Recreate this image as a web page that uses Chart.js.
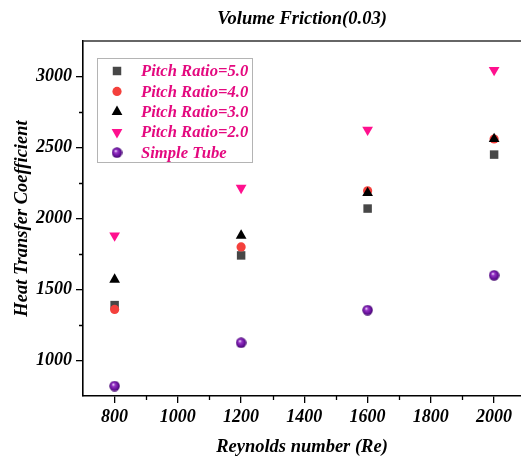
<!DOCTYPE html>
<html>
<head>
<meta charset="utf-8">
<script src="https://cdn.jsdelivr.net/npm/chart.js@4/dist/chart.umd.min.js"></script>
<style>
html,body{margin:0;padding:0;background:#fff;}
#wrap{width:521px;height:458px;position:relative;}
</style>
</head>
<body>
<div id="wrap"><canvas id="c" width="521" height="458"></canvas></div>
<script>
// ---- data ----
const reynolds = [800, 1200, 1600, 2000];
const pitch50 = [1390, 1740, 2070, 2450];
const pitch40 = [1360, 1800, 2195, 2560];
const pitch30 = [1570, 1880, 2180, 2560];
const pitch20 = [1880, 2215, 2625, 3045];
const simpleTube = [820, 1125, 1355, 1600];
const seriesNames = ['Pitch Ratio=5.0', 'Pitch Ratio=4.0', 'Pitch Ratio=3.0', 'Pitch Ratio=2.0', 'Simple Tube'];
const xTicks = [800, 1000, 1200, 1400, 1600, 1800, 2000];
const xMinorTicks = [900, 1100, 1300, 1500, 1700, 1900];
const yTicks = [1000, 1500, 2000, 2500, 3000];
const yMinorTicks = [1250, 1750, 2250, 2750];
const titleText = 'Volume Friction(0.03)';
const xTitle = 'Reynolds number (Re)';
const yTitle = 'Heat Transfer Coefficient';

// sphere marker image
function makeSphere(d) {
  const cv = document.createElement('canvas');
  cv.width = d; cv.height = d;
  const g = cv.getContext('2d');
  const r = d / 2;
  const grad = g.createRadialGradient(r * 0.75, r * 0.7, 0.3, r, r, r);
  grad.addColorStop(0, '#f4e8ff');
  grad.addColorStop(0.25, '#9a36c8');
  grad.addColorStop(0.7, '#66119a');
  grad.addColorStop(1, '#3e0566');
  g.fillStyle = grad;
  g.beginPath(); g.arc(r, r, r - 0.3, 0, Math.PI * 2); g.fill();
  return cv;
}
const sphere = makeSphere(11);

const toPts = arr => arr.map((v, i) => ({x: reynolds[i], y: v}));
const serif = "'Liberation Serif', 'DejaVu Serif', serif";

const datasets = [
  {label: seriesNames[0], data: toPts(pitch50), pointStyle: 'rect', pointRadius: 6, backgroundColor: '#474747', borderWidth: 0, order: 5},
  {label: seriesNames[1], data: toPts(pitch40), pointStyle: 'circle', pointRadius: 4.6, backgroundColor: '#f4403c', borderWidth: 0, order: 4},
  {label: seriesNames[2], data: toPts(pitch30), pointStyle: 'triangle', pointRadius: 6.2, backgroundColor: '#000000', borderWidth: 0, order: 3},
  {label: seriesNames[3], data: toPts(pitch20), pointStyle: 'triangle', rotation: 180, pointRadius: 6.2, backgroundColor: '#ff108e', borderWidth: 0, order: 2},
  {label: seriesNames[4], data: toPts(simpleTube), pointStyle: sphere, pointRadius: 5.5, backgroundColor: '#66119a', borderWidth: 0, order: 1}
];
datasets.forEach(d => { d.showLine = false; d.pointHoverRadius = d.pointRadius; });

const decor = {
  id: 'decor',
  afterDraw(chart) {
    const ctx = chart.ctx;
    const a = chart.chartArea;
    const xs = chart.scales.x, ys = chart.scales.y;
    ctx.save();
    // top frame line
    ctx.strokeStyle = '#333';
    ctx.lineWidth = 1.5;
    ctx.beginPath();
    ctx.moveTo(a.left, a.top); ctx.lineTo(a.right, a.top);
    ctx.stroke();
    // minor ticks
    ctx.strokeStyle = '#000';
    ctx.lineWidth = 1.3;
    ctx.beginPath();
    xMinorTicks.forEach(v => {
      const px = Math.round(xs.getPixelForValue(v)) + 0.5;
      ctx.moveTo(px, a.bottom); ctx.lineTo(px, a.bottom + 4);
    });
    yMinorTicks.forEach(v => {
      const py = Math.round(ys.getPixelForValue(v)) + 0.5;
      ctx.moveTo(a.left, py); ctx.lineTo(a.left - 4, py);
    });
    ctx.stroke();
    // title
    ctx.fillStyle = '#000';
    ctx.font = "italic bold 18.5px " + serif;
    ctx.textAlign = 'center';
    ctx.textBaseline = 'middle';
    ctx.fillText(titleText, (a.left + a.right) / 2, 19);
    // legend
    const lx = 97, ly = 58, lw = 155, lh = 104;
    ctx.fillStyle = '#fff';
    ctx.fillRect(lx, ly, lw, lh);
    ctx.strokeStyle = '#b4b4b4';
    ctx.lineWidth = 1;
    ctx.strokeRect(lx + 0.5, ly + 0.5, lw, lh);
    ctx.font = "italic bold 16.6px " + serif;
    ctx.textAlign = 'left';
    chart.data.datasets.forEach((ds, i) => {
      const cy = 71 + i * 20.4;
      const mx = 117;
      if (ds.pointStyle instanceof HTMLCanvasElement) {
        ctx.drawImage(ds.pointStyle, mx - 5.5, cy - 5.5, 11, 11);
      } else {
        ctx.save();
        ctx.fillStyle = ds.backgroundColor;
        ctx.beginPath();
        const r = ds.pointRadius;
        if (ds.pointStyle === 'rect') {
          const s = Math.SQRT1_2 * r;
          ctx.rect(mx - s, cy - s, 2 * s, 2 * s);
        } else if (ds.pointStyle === 'circle') {
          ctx.arc(mx, cy, r, 0, Math.PI * 2);
        } else {
          const rot = (ds.rotation || 0) * Math.PI / 180;
          for (let k = 0; k < 3; k++) {
            const ang = -Math.PI / 2 + rot + k * 2 * Math.PI / 3;
            const px = mx + r * Math.cos(ang), py = cy + r * Math.sin(ang);
            if (k === 0) ctx.moveTo(px, py); else ctx.lineTo(px, py);
          }
          ctx.closePath();
        }
        ctx.fill();
        ctx.restore();
      }
      ctx.fillStyle = '#e4097f';
      ctx.textBaseline = 'middle';
      ctx.fillText(ds.label, 141, cy + 1);
    });
    ctx.restore();
  }
};

const tickFont = {family: serif, size: 18, style: 'italic', weight: 'bold'};
const titleFont = {family: serif, size: 18.5, style: 'italic', weight: 'bold'};

new Chart(document.getElementById('c'), {
  type: 'scatter',
  data: {datasets},
  options: {
    responsive: false,
    animation: false,
    layout: {autoPadding: false, padding: {top: 41, right: 0, left: 0, bottom: 0}},
    plugins: {legend: {display: false}, tooltip: {enabled: false}, title: {display: false}},
    scales: {
      x: {
        type: 'linear', min: 700, max: 2085,
        afterBuildTicks: s => { s.ticks = xTicks.map(v => ({value: v})); },
        afterFit: s => { s.height = 62; s.paddingRight = 0; s.paddingLeft = 0; },
        grid: {display: true, drawOnChartArea: false, drawTicks: true, tickLength: 7, color: '#000', lineWidth: 1.3},
        border: {display: true, color: '#000', width: 1.6},
        ticks: {color: '#000', padding: 4, font: tickFont, maxRotation: 0, autoSkip: false, callback: v => String(v)},
        title: {display: true, text: xTitle, color: '#000', padding: {top: 8, bottom: 0}, font: titleFont}
      },
      y: {
        type: 'linear', min: 750, max: 3250,
        afterBuildTicks: s => { s.ticks = yTicks.map(v => ({value: v})); },
        afterFit: s => { s.width = 83; s.paddingTop = 0; s.paddingBottom = 0; },
        grid: {display: true, drawOnChartArea: false, drawTicks: true, tickLength: 7, color: '#000', lineWidth: 1.3},
        border: {display: true, color: '#000', width: 1.6},
        ticks: {color: '#000', padding: 4, font: tickFont, autoSkip: false, callback: v => String(v)},
        title: {display: true, text: yTitle, color: '#000', padding: {top: 11, bottom: 0}, font: titleFont}
      }
    }
  },
  plugins: [decor]
});
</script>
</body>
</html>
